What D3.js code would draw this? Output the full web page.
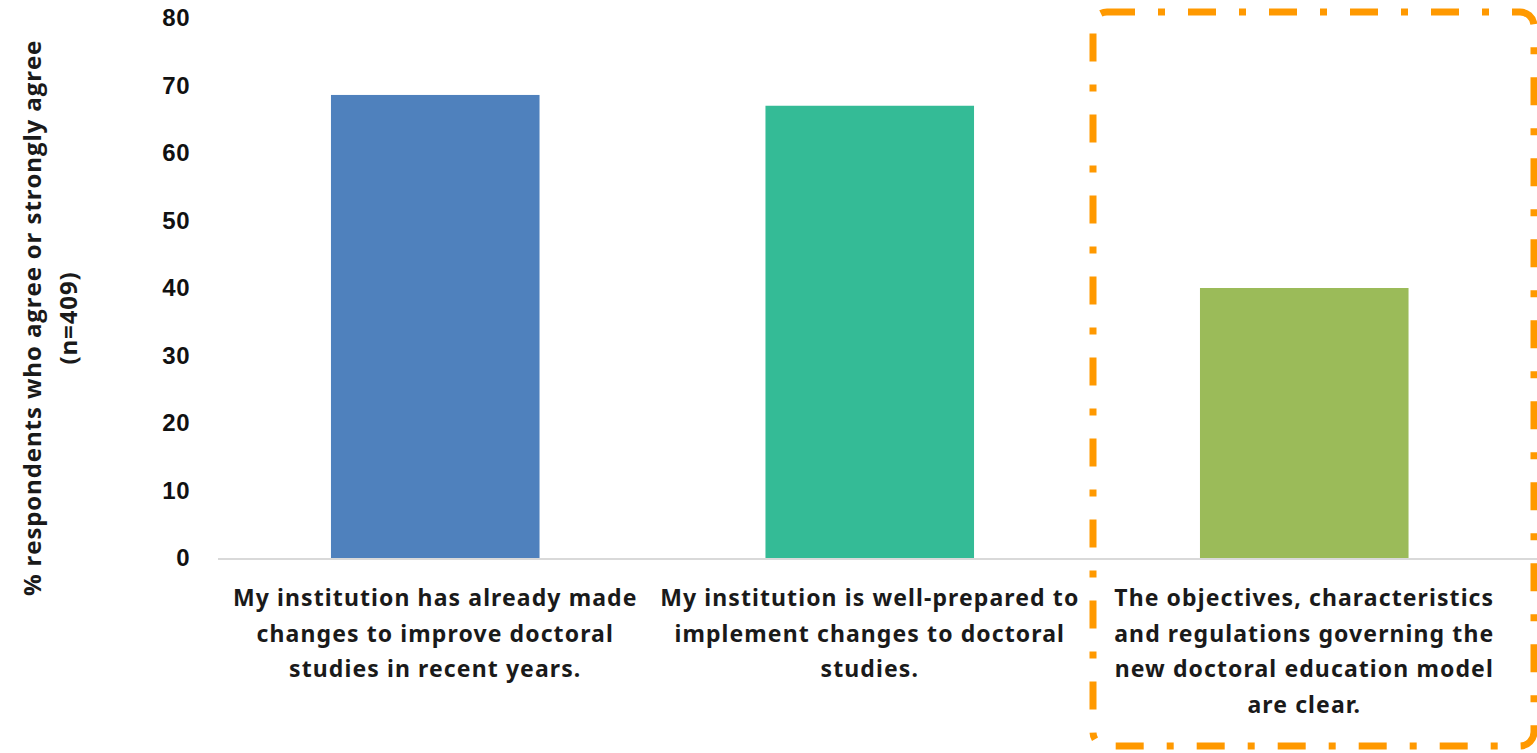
<!DOCTYPE html>
<html>
<head>
<meta charset="utf-8">
<script src="https://cdn.jsdelivr.net/npm/d3@7"></script>
<style>
  html, body { margin: 0; padding: 0; background: #fff; }
  svg { display: block; }
</style>
</head>
<body>
<svg id="chart" width="1537" height="753"></svg>
<script>
// Survey results: share of respondents agreeing with each statement
const categories = [
  "My institution has already made changes to improve doctoral studies in recent years.",
  "My institution is well-prepared to implement changes to doctoral studies.",
  "The objectives, characteristics and regulations governing the new doctoral education model are clear."
];
const categoryLines = [
  ["My institution has already made", "changes to improve doctoral", "studies in recent years."],
  ["My institution is well-prepared to", "implement changes to doctoral", "studies."],
  ["The objectives, characteristics", "and regulations governing the", "new doctoral education model", "are clear."]
];
const values = [68.6, 67.0, 40.0];
const barColors = ["#4f81bd", "#34bb96", "#9bbb59"];
const yTicks = [0, 10, 20, 30, 40, 50, 60, 70, 80];
const yTitleLines = ["% respondents who agree or strongly agree", "(n=409)"];

const svg = d3.select("#chart");
const plotLeft = 218, plotRight = 1521.5, plotTop = 18, plotBottom = 558;

const x = d3.scaleBand().domain(categories).range([plotLeft, plotRight]).paddingInner(0.52).paddingOuter(0.26);
const y = d3.scaleLinear().domain([0, 80]).range([plotBottom, plotTop]);

// Y axis (labels only)
const yAxis = d3.axisLeft(y).tickValues(yTicks).tickSize(0).tickPadding(0);
const yg = svg.append("g").attr("transform", "translate(190,0)").call(yAxis);
yg.select(".domain").remove();
yg.selectAll("text")
  .attr("font-family", "'Liberation Sans', Arial, sans-serif")
  .attr("font-weight", "bold")
  .attr("font-size", 24)
  .attr("letter-spacing", 0.5)
  .attr("fill", "#111");

// Bars
svg.append("g").selectAll("rect")
  .data(categories)
  .join("rect")
  .attr("x", d => x(d))
  .attr("width", x.bandwidth())
  .attr("y", (d, i) => y(values[i]))
  .attr("height", (d, i) => y(0) - y(values[i]))
  .attr("fill", (d, i) => barColors[i]);

// Category baseline
svg.append("line")
  .attr("x1", plotLeft).attr("x2", 1537)
  .attr("y1", y(0) + 1).attr("y2", y(0) + 1)
  .attr("stroke", "#d9d9d9").attr("stroke-width", 2);

// Category labels
const xl = svg.append("g")
  .attr("font-family", "'Noto Sans', 'Open Sans', sans-serif")
  .attr("font-weight", "bold")
  .attr("font-size", 23)
  .attr("letter-spacing", 1.1)
  .attr("fill", "#1a1a1a")
  .attr("text-anchor", "middle");
categories.forEach((c, i) => {
  const cx = x(c) + x.bandwidth() / 2;
  const t = xl.append("text").attr("x", cx).attr("y", 606);
  categoryLines[i].forEach((ln, j) => {
    t.append("tspan").attr("x", cx).attr("dy", j === 0 ? 0 : 35.5).text(ln);
  });
});

// Y axis title
const yt = svg.append("text")
  .attr("transform", "translate(0,318) rotate(-90)")
  .attr("font-family", "'Open Sans', 'Noto Sans', sans-serif")
  .attr("font-weight", "bold")
  .attr("font-size", 24)
  .attr("letter-spacing", 0.9)
  .attr("fill", "#1a1a1a")
  .attr("text-anchor", "middle");
yTitleLines.forEach((ln, j) => {
  yt.append("tspan").attr("x", 0).attr("y", 41 + j * 36).text(ln);
});

// Dash-dot highlight frame around the third statement
svg.append("rect")
  .attr("x", 1093).attr("y", 12)
  .attr("width", 441).attr("height", 734)
  .attr("rx", 14)
  .attr("fill", "none")
  .attr("stroke", "#ff9900")
  .attr("stroke-width", 7)
  .attr("stroke-dasharray", "28 23 7 23");
</script>
</body>
</html>
